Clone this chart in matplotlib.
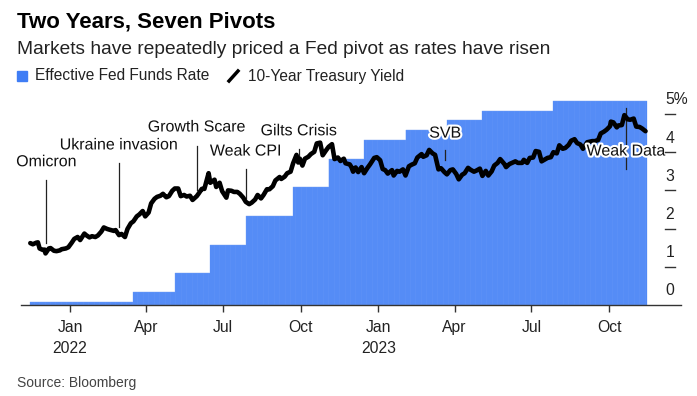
import pandas as pd
import numpy as np
import matplotlib
matplotlib.use("Agg")
import matplotlib.pyplot as plt
import matplotlib.patheffects as pe
from matplotlib.lines import Line2D

plt.rcParams['font.family'] = ['Liberation Sans', 'DejaVu Sans']

# Effective Fed Funds Rate: change dates and levels (%)
ffr_dates = ['2021-11-15', '2022-03-17', '2022-05-05', '2022-06-16', '2022-07-28',
             '2022-09-22', '2022-11-03', '2022-12-15', '2023-02-02', '2023-03-23',
             '2023-05-04', '2023-07-27']
ffr_levels = [0.08, 0.33, 0.83, 1.58, 2.33, 3.08, 3.83, 4.33, 4.58, 4.83, 5.08, 5.33]
ffr_end = '2023-11-14'

# 10-year treasury yield, twice-weekly readings (%)
ust_dates = [
    '2021-11-15', '2021-11-18', '2021-11-22', '2021-11-24', '2021-11-26', '2021-11-30',
    '2021-12-02', '2021-12-03', '2021-12-07', '2021-12-09', '2021-12-13', '2021-12-16',
    '2021-12-20', '2021-12-22', '2021-12-27', '2021-12-30',
    '2022-01-03', '2022-01-06', '2022-01-10', '2022-01-13', '2022-01-18', '2022-01-20',
    '2022-01-24', '2022-01-27', '2022-01-31', '2022-02-03', '2022-02-07', '2022-02-10',
    '2022-02-14', '2022-02-17', '2022-02-22', '2022-02-24', '2022-02-28', '2022-03-03',
    '2022-03-07', '2022-03-10', '2022-03-14', '2022-03-17', '2022-03-21', '2022-03-24',
    '2022-03-28', '2022-03-31', '2022-04-04', '2022-04-07', '2022-04-11', '2022-04-14',
    '2022-04-18', '2022-04-21', '2022-04-25', '2022-04-28', '2022-05-02', '2022-05-05',
    '2022-05-09', '2022-05-12', '2022-05-16', '2022-05-19', '2022-05-23', '2022-05-26',
    '2022-05-31', '2022-06-02', '2022-06-06', '2022-06-09', '2022-06-13', '2022-06-14',
    '2022-06-16', '2022-06-21', '2022-06-23', '2022-06-27', '2022-06-30', '2022-07-05',
    '2022-07-07', '2022-07-11', '2022-07-14', '2022-07-18', '2022-07-21', '2022-07-25',
    '2022-07-28', '2022-08-01', '2022-08-04', '2022-08-08', '2022-08-11', '2022-08-15',
    '2022-08-18', '2022-08-22', '2022-08-25', '2022-08-29', '2022-09-01', '2022-09-06',
    '2022-09-08', '2022-09-12', '2022-09-15', '2022-09-19', '2022-09-22', '2022-09-26',
    '2022-09-28', '2022-09-30', '2022-10-03', '2022-10-06', '2022-10-10', '2022-10-13',
    '2022-10-17', '2022-10-20', '2022-10-24', '2022-10-27', '2022-10-31', '2022-11-03',
    '2022-11-07', '2022-11-10', '2022-11-14', '2022-11-17', '2022-11-21', '2022-11-23',
    '2022-11-28', '2022-11-30', '2022-12-02', '2022-12-05', '2022-12-08', '2022-12-12',
    '2022-12-15', '2022-12-19', '2022-12-22', '2022-12-27', '2022-12-30',
    '2023-01-03', '2023-01-06', '2023-01-09', '2023-01-12', '2023-01-17', '2023-01-19',
    '2023-01-23', '2023-01-26', '2023-01-30', '2023-02-02', '2023-02-06', '2023-02-09',
    '2023-02-13', '2023-02-16', '2023-02-21', '2023-02-23', '2023-02-27', '2023-03-02',
    '2023-03-06', '2023-03-09', '2023-03-13', '2023-03-16', '2023-03-20', '2023-03-23',
    '2023-03-27', '2023-03-30', '2023-04-03', '2023-04-06', '2023-04-10', '2023-04-13',
    '2023-04-17', '2023-04-20', '2023-04-24', '2023-04-27', '2023-05-01', '2023-05-04',
    '2023-05-08', '2023-05-11', '2023-05-15', '2023-05-18', '2023-05-22', '2023-05-25',
    '2023-05-30', '2023-06-01', '2023-06-05', '2023-06-08', '2023-06-12', '2023-06-15',
    '2023-06-20', '2023-06-22', '2023-06-26', '2023-06-29', '2023-07-03', '2023-07-06',
    '2023-07-10', '2023-07-13', '2023-07-17', '2023-07-20', '2023-07-24', '2023-07-27',
    '2023-07-31', '2023-08-03', '2023-08-07', '2023-08-10', '2023-08-14', '2023-08-17',
    '2023-08-21', '2023-08-24', '2023-08-28', '2023-08-31', '2023-09-05', '2023-09-07',
    '2023-09-11', '2023-09-14', '2023-09-18', '2023-09-21', '2023-09-25', '2023-09-28',
    '2023-10-02', '2023-10-03', '2023-10-06', '2023-10-10', '2023-10-12', '2023-10-16',
    '2023-10-19', '2023-10-23', '2023-10-26', '2023-10-30', '2023-11-02', '2023-11-06',
    '2023-11-09', '2023-11-13']
ust_values = [
    1.62, 1.59, 1.63, 1.64, 1.48, 1.44,
    1.45, 1.35, 1.48, 1.49, 1.42, 1.41,
    1.43, 1.46, 1.48, 1.51,
    1.63, 1.73, 1.78, 1.70, 1.87, 1.83,
    1.77, 1.80, 1.78, 1.82, 1.92, 2.03,
    1.99, 1.97, 1.94, 1.96, 1.83, 1.86,
    1.78, 1.99, 2.14, 2.19, 2.32, 2.37,
    2.46, 2.32, 2.42, 2.66, 2.78, 2.83,
    2.86, 2.91, 2.82, 2.85, 2.99, 3.05,
    3.05, 2.85, 2.88, 2.84, 2.86, 2.75,
    2.85, 2.91, 3.04, 3.04, 3.37, 3.45,
    3.20, 3.28, 3.09, 3.20, 2.98, 2.81,
    3.00, 2.99, 2.96, 2.96, 2.91, 2.81,
    2.70, 2.64, 2.68, 2.76, 2.88, 2.79,
    2.88, 3.03, 3.03, 3.11, 3.26, 3.35,
    3.30, 3.36, 3.45, 3.49, 3.71, 3.93,
    3.73, 3.83, 3.65, 3.83, 3.88, 3.95,
    4.01, 4.23, 4.25, 3.92, 4.05, 4.14,
    4.21, 3.82, 3.86, 3.77, 3.83, 3.71,
    3.68, 3.61, 3.49, 3.60, 3.48, 3.61,
    3.45, 3.59, 3.68, 3.85, 3.87,
    3.79, 3.56, 3.53, 3.44, 3.53, 3.39,
    3.51, 3.49, 3.55, 3.39, 3.63, 3.67,
    3.71, 3.86, 3.95, 3.88, 3.92, 4.06,
    3.97, 3.93, 3.55, 3.58, 3.48, 3.42,
    3.53, 3.55, 3.43, 3.29, 3.41, 3.45,
    3.59, 3.54, 3.49, 3.52, 3.57, 3.38,
    3.51, 3.39, 3.50, 3.65, 3.72, 3.82,
    3.69, 3.61, 3.69, 3.72, 3.76, 3.72,
    3.72, 3.80, 3.72, 3.85, 3.86, 4.03,
    4.01, 3.76, 3.81, 3.85, 3.87, 4.00,
    3.97, 4.18, 4.09, 4.11, 4.19, 4.30,
    4.34, 4.24, 4.20, 4.09, 4.26, 4.27,
    4.29, 4.29, 4.32, 4.49, 4.54, 4.59,
    4.68, 4.80, 4.78, 4.65, 4.70, 4.71,
    4.97, 4.86, 4.85, 4.88, 4.67, 4.66,
    4.62, 4.55]

# annotated pivots
events = ['Omicron', 'Ukraine invasion', 'Growth Scare', 'Weak CPI',
          'Gilts Crisis', 'SVB', 'Weak Data']
event_dates = ['2021-12-04', '2022-02-28', '2022-05-31', '2022-07-28',
               '2022-09-29', '2023-03-21', '2023-10-21']
# (label y, line top, line bottom) in % units
event_pos = [(3.75, 3.27, 1.62), (4.19, 3.72, 2.05), (4.66, 4.17, 3.00),
             (4.03, 3.56, 2.80), (4.56, 4.08, 3.85), (4.50, 4.06, 3.80),
             (4.03, 5.16, 3.56)]

# daily step series for the bars
ffr = pd.Series(ffr_levels, index=pd.to_datetime(ffr_dates))
days = pd.date_range(ffr_dates[0], ffr_end, freq='D')
ffr_daily = ffr.reindex(days, method='ffill')

W, H = 697, 396
fig = plt.figure(figsize=(W / 100, H / 100), dpi=100)
ax = fig.add_axes([21 / W, (H - 305) / H, 660 / W, (305 - 90) / H])

ax.bar(ffr_daily.index, ffr_daily.values, width=1.0, color='#3f7df5',
       edgecolor='#72a0f8', linewidth=0.25, align='edge', zorder=1)
ax.plot(pd.to_datetime(ust_dates), ust_values, color='black', lw=3.3,
        solid_joinstyle='round', solid_capstyle='round', zorder=3)

halo = [pe.withStroke(linewidth=3, foreground='white')]
for lab, d, (ty, l1, l2) in zip(events, event_dates, event_pos):
    dn = pd.Timestamp(d)
    ax.plot([dn, dn], [l2, l1], color='#222222', lw=0.9, zorder=2)
    ax.text(dn, ty, lab, ha='center', va='center', fontsize=11.5,
            color='#111111', path_effects=halo, zorder=4)

ax.set_xlim(pd.Timestamp('2021-11-04'), pd.Timestamp('2023-12-25'))
ax.set_ylim(0, 215 / 38.2)

for s in ['top', 'right', 'left']:
    ax.spines[s].set_visible(False)
ax.spines['bottom'].set_color('#333333')
ax.spines['bottom'].set_linewidth(1.0)
ax.spines['bottom'].set_zorder(5)

ticks = pd.to_datetime(['2022-01-01', '2022-04-01', '2022-07-01', '2022-10-01',
                        '2023-01-01', '2023-04-01', '2023-07-01', '2023-10-01'])
tick_labels = ['Jan\n2022', 'Apr', 'Jul', 'Oct', 'Jan\n2023', 'Apr', 'Jul', 'Oct']
ax.set_xticks(ticks)
ax.set_xticklabels(tick_labels, fontsize=11.3, color='#222222', linespacing=1.45,
                   va='top')
ax.tick_params(axis='x', length=5, width=1, color='#333333', pad=6)
ax.set_yticks([])

# y-axis: short ticks with labels above, inside the plot on the right
y_vals = [0, 1, 2, 3, 4, 5]
y_labels = ['0', '1', '2', '3', '4', '5%']
tr = ax.get_yaxis_transform()
x0 = (665 - 21) / 660
x1 = (675 - 21) / 660
for v, lab in zip(y_vals, y_labels):
    if v > 0:
        ax.plot([x0, x1], [v, v], color='#333333', lw=1, transform=tr, zorder=5)
    ax.text(x0 + 0.001, v + 0.37, lab, transform=tr, ha='left', va='center',
            fontsize=11.3, color='#222222')

# titles
fig.text(17 / W, 1 - 22 / H, 'Two Years, Seven Pivots', fontsize=16,
         fontweight='bold', ha='left', va='center', color='black')
fig.text(17 / W, 1 - 49 / H,
         'Markets have repeatedly priced a Fed pivot as rates have risen',
         fontsize=13.8, ha='left', va='center', color='#222222')

# legend
fig.patches.append(plt.Rectangle((17 / W, 1 - 81 / H), 10 / W, 10 / H,
                                 transform=fig.transFigure, color='#3f7df5'))
fig.text(35 / W, 1 - 76 / H, 'Effective Fed Funds Rate', fontsize=11.2,
         ha='left', va='center', color='#222222')
fig.lines.append(Line2D([229 / W, 238 / W], [1 - 81 / H, 1 - 71 / H],
                        transform=fig.transFigure, color='black', lw=2.5))
fig.text(248 / W, 1 - 76 / H, '10-Year Treasury Yield', fontsize=11.2,
         ha='left', va='center', color='#222222')

fig.text(17 / W, 1 - 383 / H, 'Source: Bloomberg', fontsize=10,
         ha='left', va='center', color='#444444')

fig.savefig('out.png', dpi=100)
